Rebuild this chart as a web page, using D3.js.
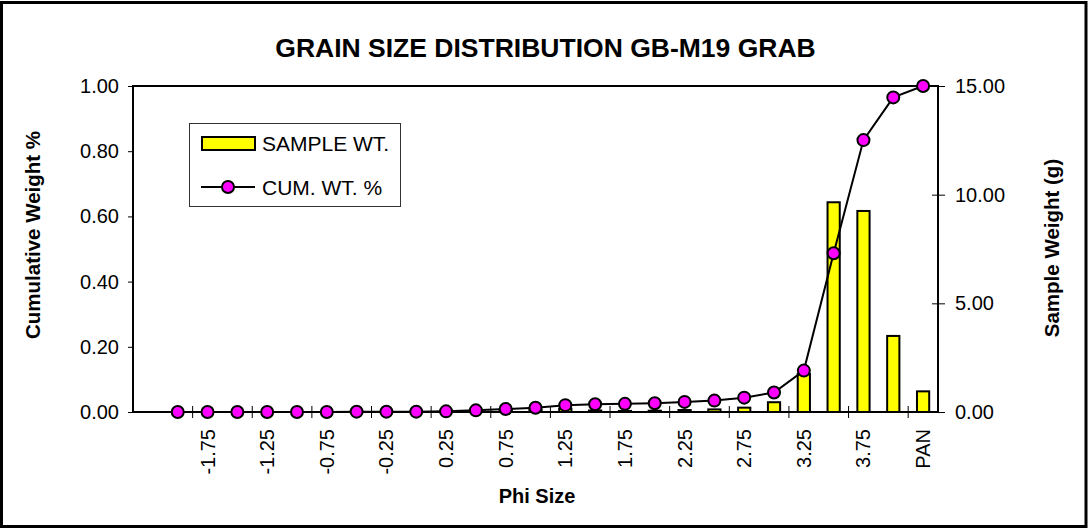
<!DOCTYPE html>
<html>
<head>
<meta charset="utf-8">
<script src="https://cdn.jsdelivr.net/npm/d3@7"></script>
<style>
  html, body { margin: 0; padding: 0; background: #fff; }
  svg { display: block; font-family: "Liberation Sans", Arial, sans-serif; }
</style>
</head>
<body>
<svg id="chart" width="1088" height="529"></svg>
<script>
// ---- data ----
const categories = ["", "-2.00", "-1.75", "-1.50", "-1.25", "-1.00", "-0.75", "-0.50", "-0.25",
  "0.00", "0.25", "0.50", "0.75", "1.00", "1.25", "1.50", "1.75", "2.00", "2.25",
  "2.50", "2.75", "3.00", "3.25", "3.50", "3.75", "4.00", "PAN"];
const sampleWt = [null, 0, 0, 0, 0, 0, 0, 0.02, 0.01, 0.01, 0.02, 0.06, 0.10, 0.10,
  0.15, 0.07, 0.05, 0.06, 0.09, 0.12, 0.20, 0.45, 1.75, 9.65, 9.25, 3.50, 0.95];
const cumWt = [null, 0.000, 0.000, 0.000, 0.000, 0.000, 0.000, 0.001, 0.001, 0.001, 0.002,
  0.005, 0.009, 0.013, 0.021, 0.024, 0.025, 0.027, 0.031, 0.035, 0.044, 0.060,
  0.127, 0.487, 0.834, 0.965, 1.000];
const leftTicks = [0, 0.2, 0.4, 0.6, 0.8, 1.0];
const rightTicks = [0, 5, 10, 15];
const title = "GRAIN SIZE DISTRIBUTION GB-M19 GRAB";
const xTitle = "Phi Size";
const yLeftTitle = "Cumulative Weight %";
const yRightTitle = "Sample Weight (g)";
const legendLabels = ["SAMPLE WT.", "CUM. WT. %"];

// ---- layout ----
const W = 1088, H = 529;
const plot = { left: 133, right: 938, top: 86, bottom: 412 };
const svg = d3.select("#chart");

svg.append("rect").attr("x", 1.5).attr("y", 2.5).attr("width", W - 3.5).attr("height", H - 5)
  .attr("fill", "#fff").attr("stroke", "#000").attr("stroke-width", 3);

const idx = categories.map((d, i) => i);
const x = d3.scaleBand().domain(idx).range([plot.left, plot.right]).padding(0);
const yL = d3.scaleLinear().domain([0, 1]).range([plot.bottom, plot.top]);
const yR = d3.scaleLinear().domain([0, 15]).range([plot.bottom, plot.top]);
const bw = x.bandwidth();
const cx = i => x(i) + bw / 2;

// title
svg.append("text").attr("x", 545.5).attr("y", 56.5).attr("text-anchor", "middle")
  .attr("font-size", 26.5).attr("font-weight", "bold").text(title);

// bars
const barW = bw * 0.41;
svg.append("g").selectAll("rect").data(idx.filter(i => sampleWt[i] != null && sampleWt[i] > 0))
  .join("rect")
  .attr("x", i => cx(i) - barW / 2)
  .attr("y", i => yR(sampleWt[i]))
  .attr("width", barW)
  .attr("height", i => plot.bottom - yR(sampleWt[i]))
  .attr("fill", "#ffff00").attr("stroke", "#000").attr("stroke-width", 2);

// left axis
const gL = svg.append("g").attr("transform", `translate(${plot.left},0)`);
gL.call(d3.axisLeft(yL).tickValues(leftTicks).tickFormat(d3.format(".2f")).tickSize(5).tickPadding(9));
gL.select(".domain").remove();
gL.selectAll("line").attr("stroke", "#000").attr("stroke-width", 1);
gL.selectAll("text").attr("font-size", 20).attr("font-family", "Liberation Sans, Arial, sans-serif").attr("fill", "#000");

// right axis
const gR = svg.append("g").attr("transform", `translate(${plot.right},0)`);
gR.call(d3.axisRight(yR).tickValues(rightTicks).tickFormat(d3.format(".2f")).tickSize(7).tickPadding(10));
gR.select(".domain").remove();
gR.selectAll("line").attr("x1", -6).attr("stroke", "#000").attr("stroke-width", 1);
gR.selectAll("text").attr("font-size", 20).attr("font-family", "Liberation Sans, Arial, sans-serif").attr("fill", "#000");

// x ticks (every second category boundary) and labels
const tickIdx = idx.filter(i => i > 0 && i % 2 === 0);
svg.append("g").selectAll("line").data(tickIdx).join("line")
  .attr("x1", i => x(i)).attr("x2", i => x(i))
  .attr("y1", plot.bottom - 6).attr("y2", plot.bottom + 6)
  .attr("stroke", "#000").attr("stroke-width", 1);
svg.append("g").selectAll("text").data(idx.filter(i => i % 2 === 0 && categories[i] !== ""))
  .join("text")
  .attr("transform", i => `translate(${cx(i)},${plot.bottom + 17}) rotate(-90)`)
  .attr("text-anchor", "end").attr("dominant-baseline", "central")
  .attr("font-size", 20).text(i => categories[i]);

// plot frame
svg.append("rect").attr("x", plot.left).attr("y", plot.top)
  .attr("width", plot.right - plot.left).attr("height", plot.bottom - plot.top)
  .attr("fill", "none").attr("stroke", "#000").attr("stroke-width", 2);

// cumulative line & markers
const pts = idx.filter(i => cumWt[i] != null);
svg.append("path").datum(pts)
  .attr("d", d3.line().x(i => cx(i)).y(i => yL(cumWt[i])))
  .attr("fill", "none").attr("stroke", "#000").attr("stroke-width", 2);
svg.append("g").selectAll("circle").data(pts).join("circle")
  .attr("cx", i => cx(i)).attr("cy", i => yL(cumWt[i])).attr("r", 6)
  .attr("fill", "#ff00ff").attr("stroke", "#000").attr("stroke-width", 2);

// axis titles
svg.append("text").attr("x", 537).attr("y", 503).attr("text-anchor", "middle")
  .attr("font-size", 20).attr("font-weight", "bold").text(xTitle);
svg.append("text").attr("transform", `translate(40,235) rotate(-90)`).attr("text-anchor", "middle")
  .attr("font-size", 20.5).attr("font-weight", "bold").text(yLeftTitle);
svg.append("text").attr("transform", `translate(1059,248) rotate(-90)`).attr("text-anchor", "middle")
  .attr("font-size", 20.5).attr("font-weight", "bold").text(yRightTitle);

// legend
const lg = svg.append("g");
lg.append("rect").attr("x", 189.5).attr("y", 123.5).attr("width", 211).attr("height", 83)
  .attr("fill", "#fff").attr("stroke", "#333").attr("stroke-width", 1);
lg.append("rect").attr("x", 202).attr("y", 137).attr("width", 53).attr("height", 13)
  .attr("fill", "#ffff00").attr("stroke", "#000").attr("stroke-width", 2);
lg.append("text").attr("x", 262).attr("y", 150.5).attr("font-size", 21).text(legendLabels[0]);
lg.append("line").attr("x1", 201).attr("x2", 255).attr("y1", 187).attr("y2", 187)
  .attr("stroke", "#000").attr("stroke-width", 2);
lg.append("circle").attr("cx", 228).attr("cy", 187).attr("r", 6)
  .attr("fill", "#ff00ff").attr("stroke", "#000").attr("stroke-width", 2);
lg.append("text").attr("x", 262).attr("y", 194.5).attr("font-size", 21).text(legendLabels[1]);
</script>
</body>
</html>
